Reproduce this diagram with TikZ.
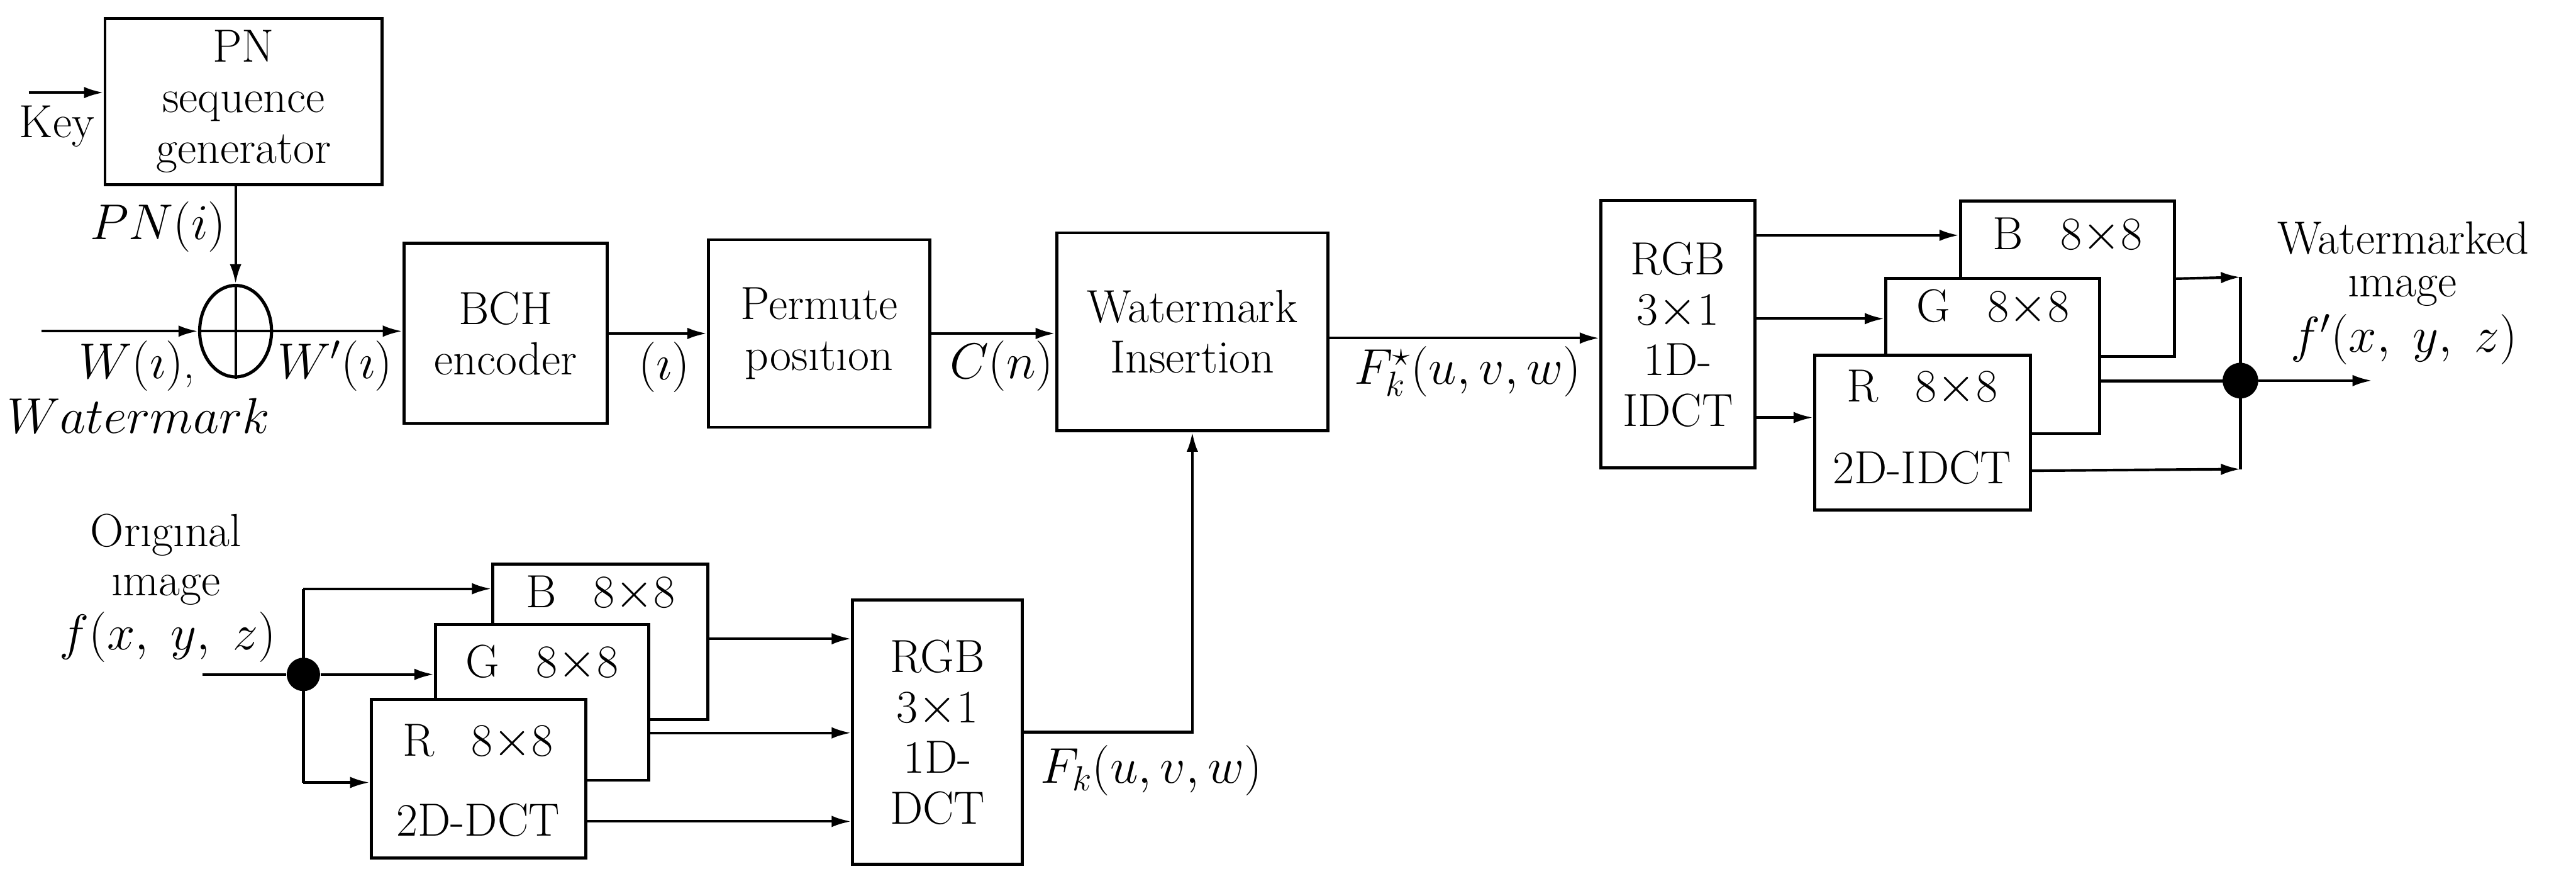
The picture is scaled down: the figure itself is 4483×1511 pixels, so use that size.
\documentclass[tikz,border=0pt]{standalone}
\usetikzlibrary{arrows.meta,shapes.geometric,calc}
\begin{document}
\begin{tikzpicture}[x=0.01cm,y=-0.01cm,
  every node/.style={font=\fontsize{23}{25}\selectfont, inner sep=0pt},
  blk/.style={draw, line width=1.5pt, align=center, fill=white},
  arr/.style={line width=1.3pt, -{Latex[length=0.34cm,width=0.2cm]}},
  ln/.style={line width=1.3pt},
  dotnode/.style={circle, fill=black, minimum size=#1}]
\useasboundingbox (0,0) rectangle (4483,1511);

% ---- top chain ----
\node[blk, minimum width=4.82cm, minimum height=2.89cm] (pn) at (424,176.5) {PN\\sequence\\generator};
\node[ellipse, draw, line width=1.6pt, minimum width=1.25cm, minimum height=1.59cm] (ring) at (410,576) {};
\draw[line width=1.3pt] (ring.north) -- (ring.south) (ring.west) -- (ring.east);
\node[blk, minimum width=3.54cm, minimum height=3.13cm] (bch) at (880,580) {BCH\\encoder};
\node[blk, minimum width=3.85cm, minimum height=3.26cm] (perm) at (1425.5,580) {Permute\\pos\i t\i on};
\node[blk, minimum width=4.72cm, minimum height=3.44cm] (wi) at (2075,577) {Watermark\\Insertion};
\node[blk, minimum width=2.68cm, minimum height=4.65cm] (idct) at (2920,581.5) {RGB\\3$\times$1\\1D-\\IDCT};

\coordinate (keyin) at (50,161);
\coordinate (win) at (72,576);
\draw[arr] (keyin) -- (keyin -| pn.west);
\node (key) at (99,220) {Key};
\draw[arr] (ring.north |- pn.south) -- (ring.north);
\node (pnl) at (275,395) {$PN(i)$};
\draw[arr] (win) -- (ring.west);
\draw[arr] (ring.east) -- (ring.east -| bch.west);
\node (wl) at (238,636) {$W(\imath)$,};
\node (wml) at (241,723) {$Watermark$};
\node (wpl) at (583,636) {$W'(\imath)$};
\draw[arr] (bch.east) -- (perm.west);
\node (il) at (1156,639) {$(\imath)$};
\draw[arr] (perm.east) -- (perm.east -| wi.west);
\node (cl) at (1743,636) {$C(n)$};
\draw[arr] ($(wi.east)+(0,11)$) -- ($(wi.east -| idct.west)+(0,11)$);
\node (fsl) at (2554,646) {$F^{\star}_{k}(u,v,w)$};

% ---- bottom-left: forward DCT ----
\node[blk, minimum width=3.74cm, minimum height=2.70cm] (Bd) at (1045,1116) {};
\node at (1045,1033) {B\hspace{0.8em}8$\times$8};
\node[blk, minimum width=3.71cm, minimum height=2.71cm] (Gd) at (943.5,1221.5) {};
\node at (943,1154) {G\hspace{0.8em}8$\times$8};
\node[blk, minimum width=3.73cm, minimum height=2.75cm] (Rd) at (832.5,1354.5) {};
\node at (832,1291) {R\hspace{0.8em}8$\times$8};
\node at (832,1426) {2D-DCT};
\node[blk, minimum width=2.95cm, minimum height=4.59cm] (dct) at (1631.5,1273.5) {RGB\\3$\times$1\\1D-\\DCT};

\node (orig) at (289,930) {Or\i g\i nal};
\node (origi) at (289,1026) {\i mage};
\node (fxyz) at (292,1108) {$f(x,\ y,\ z)$};
\coordinate (inp) at (352,1173);
\node[dotnode=0.58cm] (split) at (528,1173) {};
\coordinate (splitT) at (528,1024);
\coordinate (splitB) at (528,1361);
\draw[ln] (inp) -- (split);
\draw[ln] (splitT) -- (splitB);
\draw[arr] (splitT) -- (splitT -| Bd.west);
\draw[arr] (split) -- (split -| Gd.west);
\draw[arr] (splitB) -- (splitB -| Rd.west);
\draw[arr] ($(Bd.east)+(0,-5)$) -- ($(Bd.east -| dct.west)+(0,-5)$);
\draw[arr] ($(Gd.south east)+(0,-85)$) -- ($(Gd.south east -| dct.west)+(0,-85)$);
\draw[arr] ($(Rd.south east)+(0,-66)$) -- ($(Rd.south east -| dct.west)+(0,-66)$);
\draw[arr] (dct.east) -- (dct.east -| wi.south) -- (wi.south);
\node[anchor=west] (fkl) at (1810,1340) {$F_{k}(u,v,w)$};

% ---- right: inverse ----
\node[blk, minimum width=3.72cm, minimum height=2.70cm] (Bi) at (3598,485) {};
\node at (3598,410) {B\hspace{0.8em}8$\times$8};
\node[blk, minimum width=3.72cm, minimum height=2.70cm] (Gi) at (3468,619) {};
\node at (3468,535) {G\hspace{0.8em}8$\times$8};
\node[blk, minimum width=3.75cm, minimum height=2.69cm] (Ri) at (3345.5,752.5) {};
\node at (3345,675) {R\hspace{0.8em}8$\times$8};
\node at (3345,814) {2D-IDCT};

\draw[arr] ($(idct.north east)+(0,63)$) -- ($(idct.north east -| Bi.west)+(0,63)$);
\draw[arr] ($(idct.north east)+(0,208)$) -- ($(idct.north east -| Gi.west)+(0,208)$);
\draw[arr] ($(idct.north east)+(0,380)$) -- ($(idct.north east -| Ri.west)+(0,380)$);

\node[dotnode=0.62cm] (merge) at (3899,662) {};
\coordinate (mergeT) at (3899,482);
\coordinate (mergeB) at (3899,816);
\coordinate (outp) at (4128,662);
\draw[ln] (mergeT) -- (mergeB);
\draw[arr] ($(Bi.south east)+(0,-138)$) -- (mergeT);
\draw[ln] ($(Gi.south east)+(0,-94)$) -- ($(Gi.south east -| merge.center)+(0,-94)$);
\draw[arr] ($(Ri.south east)+(0,-71)$) -- (mergeB);
\draw[arr] (merge) -- (outp);
\node (wmk) at (4182,414) {Watermarked};
\node (wmki) at (4181,506) {\i mage};
\node (fpxyz) at (4184,590) {$f'(x,\ y,\ z)$};
\end{tikzpicture}
\end{document}
